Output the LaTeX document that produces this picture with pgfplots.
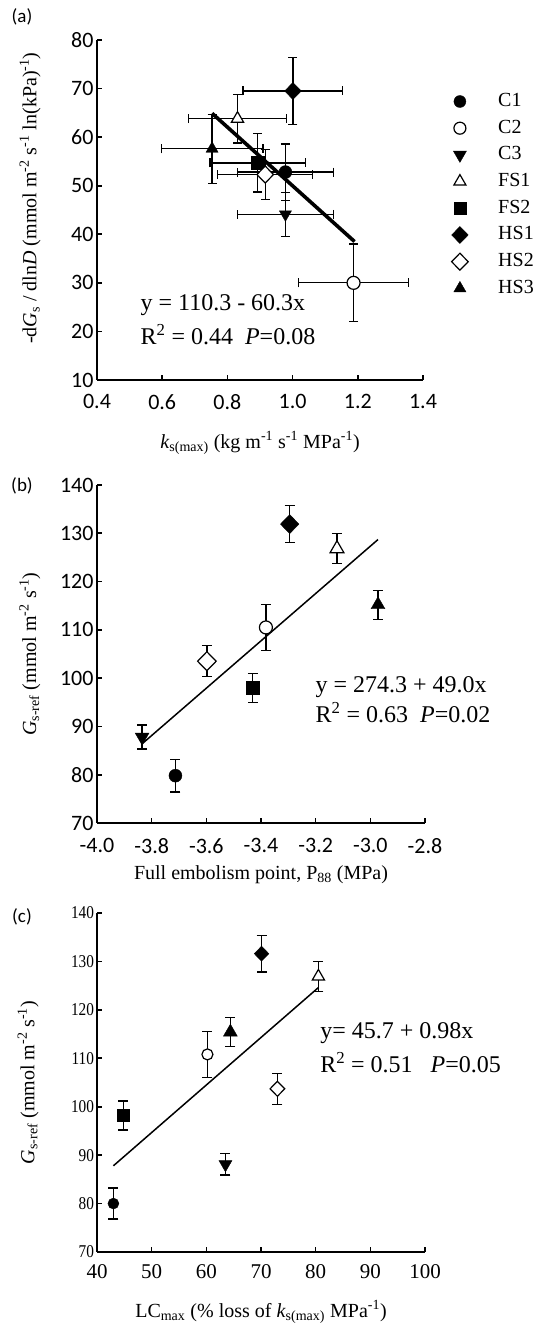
\documentclass[border=0pt]{standalone}
\usepackage{fontspec}
\setmainfont{Liberation Serif}
\setsansfont{Carlito}
\usepackage{pgfplots}
\pgfplotsset{compat=1.18}

\pgfplotsset{
  panel/.style={
    scale only axis, anchor=south west, clip=false,
    axis lines=left, axis line style={-, line width=2.6pt},
    tick align=inside, major tick length=5pt,
    tick style={line width=1.6pt, black},
    /pgf/number format/assume math mode=true,
    label style={font=\fontsize{20}{22}\selectfont},
  },
  sC1/.style={only marks, mark=*, mark size=6.5pt, mark options={fill=black, draw=black}},
  sC2/.style={only marks, mark=*, mark size=6.5pt, mark options={fill=white, draw=black, line width=1.2pt}},
  sC3/.style={only marks, mark=triangle*, mark size=8pt, mark options={rotate=180, fill=black, draw=black}},
  sFS1/.style={only marks, mark=triangle*, mark size=8pt, mark options={fill=white, draw=black, line width=1.2pt}},
  sFS2/.style={only marks, mark=square*, mark size=6.5pt, mark options={fill=black, draw=black}},
  sHS1/.style={only marks, mark=diamond*, mark size=9.5pt, mark options={xscale=1.3, fill=black, draw=black}},
  sHS2/.style={only marks, mark=diamond*, mark size=9.5pt, mark options={xscale=1.3, fill=white, draw=black, line width=1.2pt}},
  sHS3/.style={only marks, mark=triangle*, mark size=8pt, mark options={fill=black, draw=black}},
  exy/.style={error bars/x dir=both, error bars/x explicit, error bars/y dir=both, error bars/y explicit,
    error bars/error bar style={line width=1.3pt, black},
    error bars/error mark options={rotate=90, line width=1.3pt, mark size=4.5pt, black}},
  ey/.style={error bars/y dir=both, error bars/y explicit,
    error bars/error bar style={line width=1.3pt, black},
    error bars/error mark options={rotate=90, line width=1.3pt, mark size=5pt, black}},
}

\begin{document}
\begin{tikzpicture}
\useasboundingbox (0pt,0pt) rectangle (545pt,1327pt);

% ---------------- (a)
\node[font=\sffamily\fontsize{19}{21}\selectfont] at (22pt,1310pt) {(a)};
\begin{axis}[panel,
  at={(97pt,947pt)}, width=326pt, height=340pt,
  xmin=0.4, xmax=1.4, ymin=10, ymax=80,
  xtick={0.4,0.6,...,1.4}, xticklabels={0.4,0.6,0.8,1.0,1.2,1.4},
  ytick={10,20,...,80},
  tick label style={font=\sffamily\fontsize{22}{24}\selectfont},
  xticklabel style={yshift=-11pt},
  xlabel={\textit{k}\textsubscript{s(max)} (kg m\textsuperscript{-1} s\textsuperscript{-1} MPa\textsuperscript{-1})},
  xlabel style={at={(axis description cs:0.5,-0.185)}, anchor=center},
  ylabel={-d\textit{G}\textsubscript{s} / dln\textit{D} (mmol m\textsuperscript{-2} s\textsuperscript{-1} ln(kPa)\textsuperscript{-1})},
  ylabel style={at={(axis description cs:-0.205,0.535)}, anchor=center},
  legend style={draw=none, fill=none, at={(axis description cs:1.078,0.855)}, anchor=north west,
    font=\fontsize{20}{22}\selectfont, column sep=28pt, row sep=6.7pt,
    nodes={text height=14pt, text depth=4pt, inner ysep=1pt}},
  legend cell align=left,
]
\addplot[sC1, exy, forget plot] coordinates {(0.978,52.8) +- (0.148,5.8)};
\addplot[sC2, exy, forget plot] coordinates {(1.187,30.0) +- (0.169,8.0)};
\addplot[sC3, mark size=7pt, exy, forget plot] coordinates {(0.978,44.1) +- (0.148,4.5)};
\addplot[sFS1, mark size=7pt, exy, forget plot] coordinates {(0.831,63.8) +- (0.151,5.0)};
\addplot[sFS2, exy, forget plot] coordinates {(0.893,54.7) +- (0.146,6.0)};
\addplot[sHS1, mark size=8.5pt, exy, forget plot] coordinates {(1.001,69.5) +- (0.153,6.9)};
\addplot[sHS2, mark size=8.5pt, exy, forget plot] coordinates {(0.916,52.3) +- (0.146,5.2)};
\addplot[sHS3, mark size=7pt, exy, forget plot] coordinates {(0.753,57.6) +- (0.156,7.1)};
\addplot[black, line width=3.6pt, no markers, forget plot] coordinates {(0.753,64.9) (1.19,38.5)};
\addlegendimage{sC1, mark size=6pt}\addlegendentry{C1}
\addlegendimage{sC2, mark size=6pt}\addlegendentry{C2}
\addlegendimage{sC3, mark size=7.5pt}\addlegendentry{C3}
\addlegendimage{sFS1, mark size=7pt}\addlegendentry{FS1}
\addlegendimage{sFS2, mark size=6pt}\addlegendentry{FS2}
\addlegendimage{sHS1, mark size=8.5pt}\addlegendentry{HS1}
\addlegendimage{sHS2, mark size=8.5pt}\addlegendentry{HS2}
\addlegendimage{sHS3, mark size=7pt}\addlegendentry{HS3}
\node[anchor=west, font=\fontsize{24}{26}\selectfont] at (axis cs:0.523,25.4) {y = 110.3 - 60.3x};
\node[anchor=west, font=\fontsize{24}{26}\selectfont] at (axis cs:0.523,19.3) {R\textsuperscript{2} = 0.44\ \ \textit{P}=0.08};
\end{axis}

% ---------------- (b)
\node[font=\sffamily\fontsize{19}{21}\selectfont] at (22pt,841pt) {(b)};
\begin{axis}[panel,
  at={(97pt,504pt)}, width=328pt, height=338pt,
  xmin=-4, xmax=-2.8, ymin=70, ymax=140,
  xtick={-4,-3.8,...,-2.75}, xticklabels={-4.0,-3.8,-3.6,-3.4,-3.2,-3.0,-2.8},
  ytick={70,80,...,140},
  tick label style={font=\sffamily\fontsize{22}{24}\selectfont},
  xticklabel style={yshift=-12pt},
  xlabel={Full embolism point, P\textsubscript{88} (MPa)},
  xlabel style={at={(axis description cs:0.5,-0.154)}, anchor=center},
  ylabel={\textit{G}\textsubscript{s-ref} (mmol m\textsuperscript{-2} s\textsuperscript{-1})},
  ylabel style={at={(axis description cs:-0.205,0.5)}, anchor=center},
]
\addplot[sC1, ey] coordinates {(-3.713,79.8) +- (0,3.4)};
\addplot[sC2, ey] coordinates {(-3.382,110.5) +- (0,4.8)};
\addplot[sC3, ey] coordinates {(-3.835,87.8) +- (0,2.5)};
\addplot[sFS1, ey] coordinates {(-3.122,126.8) +- (0,3.1)};
\addplot[sFS2, ey] coordinates {(-3.430,98.0) +- (0,3.0)};
\addplot[sHS1, ey] coordinates {(-3.295,131.9) +- (0,3.8)};
\addplot[sHS2, ey] coordinates {(-3.598,103.5) +- (0,3.2)};
\addplot[sHS3, ey] coordinates {(-2.972,115.2) +- (0,3.0)};
\addplot[black, line width=1.5pt, no markers] coordinates {(-3.835,86.4) (-2.972,128.7)};
\node[anchor=west, font=\fontsize{24}{26}\selectfont] at (axis cs:-3.213,98.2) {y = 274.3 + 49.0x};
\node[anchor=west, font=\fontsize{24}{26}\selectfont] at (axis cs:-3.213,92.8) {R\textsuperscript{2} = 0.63\ \ \textit{P}=0.02};
\end{axis}

% ---------------- (c)
\node[font=\sffamily\fontsize{19}{21}\selectfont] at (22pt,410pt) {(c)};
\begin{axis}[panel,
  at={(97pt,75pt)}, width=328pt, height=339pt,
  xmin=40, xmax=100, ymin=70, ymax=140,
  xtick={40,50,...,100}, ytick={70,80,...,140},
  xticklabel style={font=\fontsize{21}{23}\selectfont, yshift=-9pt},
  yticklabel style={font=\fontsize{18}{20}\selectfont, xscale=0.85},
  xlabel={LC\textsubscript{max} (\% loss of \textit{k}\textsubscript{s(max)} MPa\textsuperscript{-1})},
  xlabel style={at={(axis description cs:0.5,-0.177)}, anchor=center},
  ylabel={\textit{G}\textsubscript{s-ref} (mmol m\textsuperscript{-2} s\textsuperscript{-1})},
  ylabel style={at={(axis description cs:-0.21,0.5)}, anchor=center},
]
\addplot[sC1, mark size=5.5pt, ey] coordinates {(43.0,80.0) +- (0,3.2)};
\addplot[sC2, mark size=5.5pt, ey] coordinates {(60.2,110.8) +- (0,4.8)};
\addplot[sC3, mark size=7.5pt, ey] coordinates {(63.5,88.1) +- (0,2.2)};
\addplot[sFS1, mark size=7pt, ey] coordinates {(80.5,126.9) +- (0,3.1)};
\addplot[sFS2, mark size=6pt, ey] coordinates {(44.8,98.2) +- (0,3.0)};
\addplot[sHS1, mark size=7.5pt, ey] coordinates {(70.1,131.6) +- (0,3.8)};
\addplot[sHS2, mark size=7.5pt, ey] coordinates {(73.0,103.7) +- (0,3.2)};
\addplot[sHS3, mark size=8pt, ey] coordinates {(64.4,115.4) +- (0,3.0)};
\addplot[black, line width=1.5pt, no markers] coordinates {(43.0,87.8) (80.5,124.6)};
\node[anchor=west, font=\fontsize{24}{26}\selectfont] at (axis cs:80.2,115.2) {y= 45.7 + 0.98x};
\node[anchor=west, font=\fontsize{24}{26}\selectfont] at (axis cs:80.2,109.2) {R\textsuperscript{2} = 0.51\ \ \ \textit{P}=0.05};
\end{axis}
\end{tikzpicture}
\end{document}
